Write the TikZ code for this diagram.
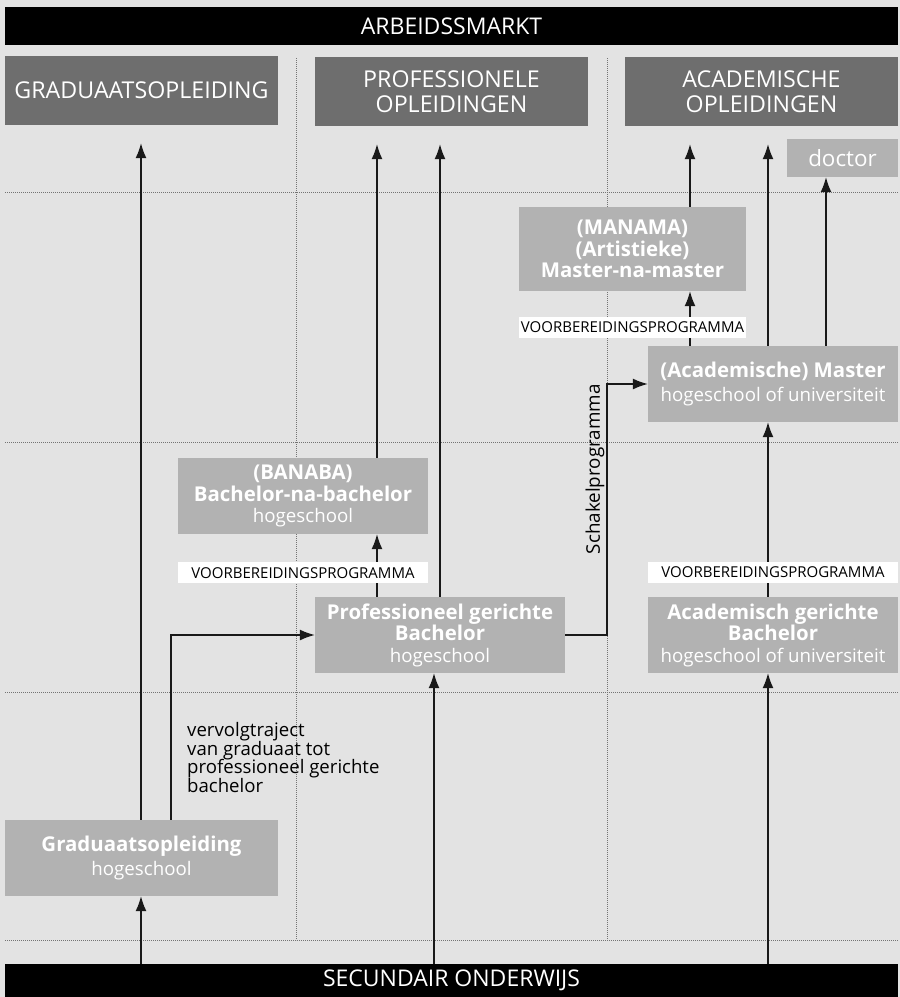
\documentclass[tikz,border=0pt]{standalone}
\usepackage{fontspec}
\setmainfont{Open Sans}
\usepackage{tikz}
\usetikzlibrary{positioning}
\usetikzlibrary{arrows.meta}
\definecolor{bggray}{HTML}{E3E3E3}
\definecolor{headgray}{HTML}{6E6E6E}
\definecolor{boxgray}{HTML}{B2B2B2}
\newcommand{\setfs}[2]{\fontsize{#1}{#2}\selectfont}
\newcommand{\where}[1]{{\mdseries\setfs{18.7}{21.5}#1}}

\begin{document}
\begin{tikzpicture}[
x=1pt, y=-1pt,
>={Latex[length=15pt,width=11pt]},
barnode/.style={rectangle, fill=black, text=white, inner sep=0pt, minimum width=893pt, minimum height=38pt, font=\setfs{23}{24}},
headnode/.style={rectangle, fill=headgray, text=white, inner sep=0pt, minimum width=273pt, minimum height=69pt, align=center, font=\setfs{23.2}{24.5}},
greynode/.style={rectangle, fill=boxgray, text=white, inner sep=0pt, minimum width=250pt, minimum height=76pt, align=center, font=\bfseries\setfs{20.4}{21.5}},
prepnode/.style={rectangle, fill=white, text=black, inner sep=0pt, minimum width=250pt, minimum height=21pt, font=\setfs{15}{16}},
gridline/.style={black!55, line width=0.8pt, dash pattern=on 0.8pt off 1.2pt},
flow/.style={->, black!90, line width=1.3pt},
]
\fill[bggray] (0,0) rectangle (900,997);
\useasboundingbox (0,0) rectangle (900,997);

%Grid
\foreach \y in {192,442,692,940} \draw[gridline] (5,\y) -- (898,\y);
\foreach \x in {296,607} \draw[gridline] (\x,58) -- (\x,940);

%Lanes
\coordinate (laneA) at (141,0);
\coordinate (laneV) at (171,0);
\coordinate (laneB) at (377,0);
\coordinate (laneP) at (434,0);
\coordinate (laneS) at (607,0);
\coordinate (laneM) at (690,0);
\coordinate (laneC) at (768,0);
\coordinate (laneD) at (826,0);

%Nodes
\node[barnode]   (arbeid)   at (451.5,26)    {ARBEIDSSMARKT};
\node[headnode]  (hgrad)    at (141.5,90.5)  {GRADUAATSOPLEIDING};
\node[headnode]  (hprof)    at (451.5,91.5)  {PROFESSIONELE\\OPLEIDINGEN};
\node[headnode]  (hacad)    at (761.5,91.5)  {ACADEMISCHE\\OPLEIDINGEN};
\node[greynode, font=\mdseries\setfs{22.4}{24}, minimum width=111pt, minimum height=38pt] (doctor) at (842.5,158) {doctor};
\node[greynode, minimum width=227pt, minimum height=84pt] (manama) at (632.5,249) {(MANAMA)\\(Artistieke)\\Master-na-master};
\node[greynode]  (master)   at (773,384)     {(Academische) Master\\[2pt]\where{hogeschool of universiteit}};
\node[greynode]  (banaba)   at (303,496)     {(BANABA)\\Bachelor-na-bachelor\\\where{hogeschool}};
\node[greynode]  (prof)     at (440,635)     {Professioneel gerichte\\Bachelor\\\where{hogeschool}};
\node[greynode]  (acbach)   at (773,635)     {Academisch gerichte\\Bachelor\\\where{hogeschool of universiteit}};
\node[greynode, minimum width=273pt] (grad) at (141.5,858) {Graduaatsopleiding\\[2pt]\where{hogeschool}};
\node[barnode, minimum height=33pt] (secund) at (451.5,980.5) {SECUNDAIR ONDERWIJS};

%Lines
\draw[flow] (secund.north -| laneA) -- (grad.south -| laneA);
\draw[flow, shorten >=18pt] (grad.north -| laneA) -- (hgrad.south -| laneA);
\draw[flow] (grad.north -| laneV) |- (prof.west);
\draw[flow] (secund.north -| laneP) -- (prof.south -| laneP);
\draw[flow, shorten >=18pt] (prof.north) -- (hprof.south -| prof.north);
\draw[flow] (prof.north -| laneB) -- (banaba.south -| laneB);
\draw[flow, shorten >=18pt] (banaba.north -| laneB) -- (hprof.south -| laneB);
\draw[flow] (prof.east) -- (prof.east -| laneS)
  -- node[pos=0.66, sloped, above, inner sep=2pt, text=black, font=\setfs{18.8}{20}] (schakel) {Schakelprogramma}
  (master.west -| laneS) -- (master.west);
\draw[flow] (secund.north -| laneC) -- (acbach.south -| laneC);
\draw[flow] (acbach.north -| laneC) -- (master.south -| laneC);
\draw[flow, shorten >=18pt] (master.north -| laneC) -- (hacad.south -| laneC);
\draw[flow] (master.north -| laneM) -- (manama.south -| laneM);
\draw[flow, shorten >=18pt] (manama.north -| laneM) -- (hacad.south -| laneM);
\draw[flow] (master.north -| laneD) -- (doctor.south -| laneD);

%Labels
\node[prepnode, minimum width=227pt] (prepM) at (632.5,327.5) {VOORBEREIDINGSPROGRAMMA};
\node[prepnode]  (prepB)    [below=28pt of banaba] {VOORBEREIDINGSPROGRAMMA};
\node[prepnode]  (prepA)    [above=14pt of acbach] {VOORBEREIDINGSPROGRAMMA};

%Text
\node[anchor=north west, align=left, inner sep=0pt, font=\setfs{18.6}{18.7}] (vervolg) at (187,722) {vervolgtraject\\van graduaat tot\\professioneel gerichte\\bachelor};
\end{tikzpicture}
\end{document}
